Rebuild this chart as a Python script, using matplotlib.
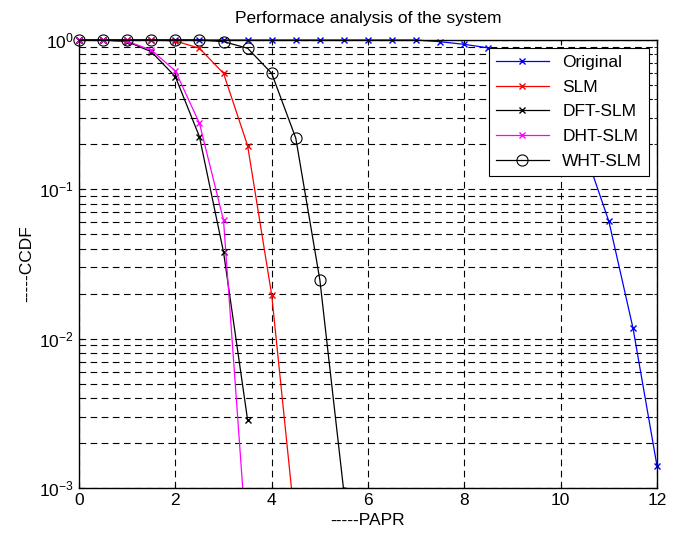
import numpy as np
import matplotlib
matplotlib.use('Agg')
import matplotlib.pyplot as plt
from matplotlib.patches import Rectangle

plt.rcParams['font.family'] = ['Liberation Sans', 'DejaVu Sans']

papr = [0, 0.5, 1, 1.5, 2, 2.5, 3, 3.5, 4, 4.5, 5, 5.5, 6, 6.5, 7, 7.5, 8,
        8.5, 9, 9.5, 10, 10.5, 11, 11.5, 12]

# Original curve over whole range
ccdf_orig = [1, 1, 1, 1, 1, 1, 1, 1, 1, 1, 1, 1, 1, 1, 1, 0.973, 0.935,
             0.885, 0.78, 0.62, 0.40, 0.18, 0.061, 0.0118, 0.0014]

papr_slm = [0, 0.5, 1, 1.5, 2, 2.5, 3, 3.5, 4, 4.5]
ccdf_slm = [1, 1, 1, 1, 0.985, 0.88, 0.598, 0.196, 0.0196, 0.00052]

papr_dft = [0, 0.5, 1, 1.5, 2, 2.5, 3, 3.5]
ccdf_dft = [1, 1, 0.975, 0.835, 0.568, 0.225, 0.038, 0.00285]

papr_dht = [0, 0.5, 1, 1.5, 2, 2.5, 3, 3.5]
ccdf_dht = [1, 1, 0.98, 0.857, 0.62, 0.277, 0.062, 0.00035]

papr_wht = [0, 0.5, 1, 1.5, 2, 2.5, 3, 3.5, 4, 4.5, 5, 5.5]
ccdf_wht = [1, 1, 1, 1, 1, 1, 0.975, 0.88, 0.598, 0.22, 0.0247, 0.00093]

fig = plt.figure(figsize=(6.83, 5.36), dpi=100)
ax = fig.add_axes([0.1157, 0.0896, 0.8463, 0.8358])

# clip only at the bottom, let markers stick out of the top/side like matlab
clip = Rectangle((-0.05, 0), 1.1, 1.1, transform=ax.transAxes, fc='none', ec='none')

lw = 0.9
lines = []
lines += ax.semilogy(papr, ccdf_orig, color='blue', marker='x', ms=5, lw=lw, label='Original')
lines += ax.semilogy(papr_slm, ccdf_slm, color='red', marker='x', ms=5, lw=lw, label='SLM')
lines += ax.semilogy(papr_dft, ccdf_dft, color='black', marker='x', ms=4, lw=lw, label='DFT-SLM')
lines += ax.semilogy(papr_dht, ccdf_dht, color='magenta', marker='x', ms=5, lw=lw, label='DHT-SLM')
lines += ax.semilogy(papr_wht, ccdf_wht, color='black', marker='o', ms=8, mfc='none',
                     mew=0.8, lw=lw, label='WHT-SLM')
for l in lines:
    l.set_clip_path(clip)

ax.set_xlim(0, 12)
ax.set_ylim(1e-3, 1)
ax.set_xticks(np.arange(0, 13, 2))
ax.grid(True, which='major', axis='both', color='black', linestyle=(0, (6, 4)), lw=0.8)
ax.grid(True, which='minor', axis='y', color='black', linestyle=(0, (6, 4)), lw=0.8)
ax.tick_params(which='both', direction='in', top=True, right=True, labelsize=12.5)
for s in ax.spines.values():
    s.set_linewidth(1.0)

ax.set_title('Performace analysis of the system', fontsize=12.5, pad=12)
ax.set_xlabel('-----PAPR', fontsize=12.5)
ax.set_ylabel('-----CCDF', fontsize=12.5)

leg = ax.legend(loc='upper right', fontsize=12.5, fancybox=False, framealpha=1,
                edgecolor='black', borderaxespad=0.45, handlelength=3.0,
                labelspacing=0.55)
leg.get_frame().set_linewidth(0.8)

fig.savefig('out.png', dpi=100)
